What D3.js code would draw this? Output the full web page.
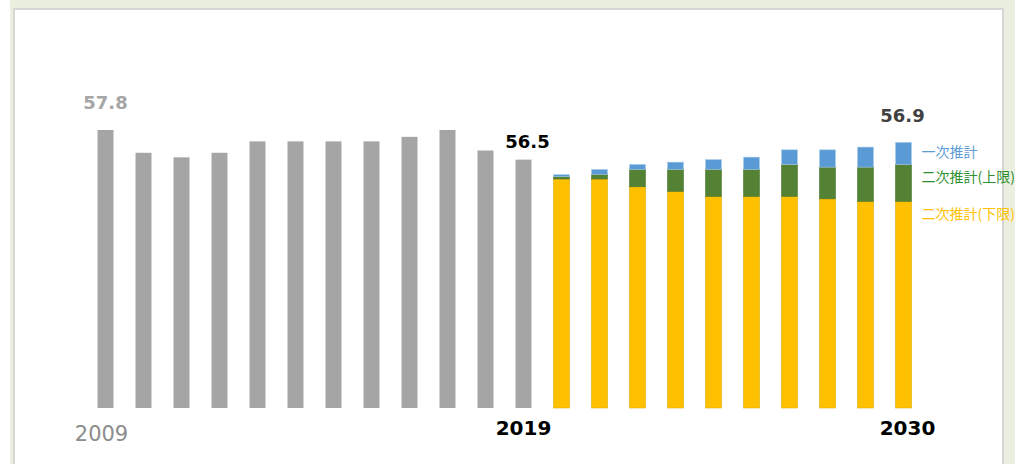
<!DOCTYPE html>
<html><head><meta charset="utf-8">
<script src="https://cdn.jsdelivr.net/npm/d3@7"></script>
<style>
html,body{margin:0;padding:0;background:#fff;overflow:hidden;}
svg{display:block;}
</style></head>
<body>
<svg id="chart" width="1015" height="464"></svg>
<script>
// ---- data ----
const tickLabels = ["2009","","","","","","","","","","","2019","","","","","","","","","","2030"];
const actualValues = [57.8,56.8,56.6,56.8,57.3,57.3,57.3,57.3,57.5,57.8,56.9,56.5];
// cumulative levels for projection years (index 12..21)
const lowerBound = [55.65,55.65,55.31,55.11,54.89,54.89,54.89,54.78,54.67,54.67]; // 二次推計(下限)
const upperBound = [55.75,55.85,56.07,56.07,56.07,56.07,56.28,56.17,56.17,56.28]; // 二次推計(上限)
const firstEst   = [55.84,56.07,56.29,56.39,56.50,56.61,56.93,56.93,57.05,57.26]; // 一次推計
const seriesNames = ["一次推計","二次推計(上限)","二次推計(下限)"];
const valueLabels = [{i:0,text:"57.8"},{i:11,text:"56.5"},{i:21,text:"56.9"}];

const svg = d3.select("#chart");
// frame
svg.append("rect").attr("x",10).attr("y",0).attr("width",1005).attr("height",464).attr("fill","#ebefdf");
svg.append("rect").attr("x",14).attr("y",9).attr("width",989).attr("height",470)
  .attr("fill","#fff").attr("stroke","#d6d6d6").attr("stroke-width",2);

const idx = d3.range(tickLabels.length);
const x = d3.scaleBand().domain(idx).range([86.5, 86.5 + 38*22]).paddingInner(0.58).paddingOuter(0.29);
const y = d3.scaleLinear().domain([45.6, 57.8]).range([408, 130]);

const g = svg.append("g");
// actual bars
g.selectAll("rect.act").data(actualValues).join("rect").attr("class","act")
  .attr("x",(d,i)=>x(i)).attr("width",x.bandwidth())
  .attr("y",d=>y(d)).attr("height",d=>y.range()[0]-y(d))
  .attr("fill","#a5a5a5");

// projection stacks
const proj = lowerBound.map((l,k)=>({i:12+k, l, u:upperBound[k], f:firstEst[k]}));
const segs = [
  {key:"lower", lo:d=>y.domain()[0], hi:d=>d.l, fill:"#ffc000", stroke:"#e0aa00"},
  {key:"upper", lo:d=>d.l, hi:d=>d.u, fill:"#548235", stroke:"#4a7530"},
  {key:"first", lo:d=>d.u, hi:d=>d.f, fill:"#5b9bd5", stroke:"#a9cbe9"}
];
segs.forEach(s=>{
  g.selectAll("rect."+s.key).data(proj).join("rect").attr("class",s.key)
    .attr("x",d=>x(d.i)).attr("width",x.bandwidth())
    .attr("y",d=>y(s.hi(d))).attr("height",d=>y(s.lo(d))-y(s.hi(d)))
    .attr("fill",s.fill).attr("stroke",s.stroke).attr("stroke-width",0.6);
});

// value labels
const vlStyle = [
  {fill:"#a6a6a6", dy:-21, dx:0},
  {fill:"#000000", dy:-12, dx:4},
  {fill:"#404040", dy:-20, dx:-1}
];
const topOf = i => i < 12 ? actualValues[i] : firstEst[i-12];
svg.selectAll("text.vl").data(valueLabels).join("text").attr("class","vl")
  .attr("x",(d,k)=>x(d.i)+x.bandwidth()/2+vlStyle[k].dx)
  .attr("y",(d,k)=>y(topOf(d.i))+vlStyle[k].dy)
  .attr("text-anchor","middle")
  .attr("font-family","'DejaVu Sans', Verdana, sans-serif")
  .attr("font-weight","bold").attr("font-size",18)
  .attr("fill",(d,k)=>vlStyle[k].fill)
  .text(d=>d.text);

// x axis labels
const xAxis = d3.axisBottom(x).tickSize(0).tickPadding(0).tickFormat(i=>tickLabels[i]);
const ax = svg.append("g").attr("transform","translate(0,408)").call(xAxis);
ax.select(".domain").remove();
ax.selectAll(".tick text")
  .attr("font-family","'DejaVu Sans', Verdana, sans-serif")
  .attr("dy",null)
  .attr("y",(i)=> i===0 ? 33 : 27)
  .attr("dx",(i)=> i===0 ? -4 : (i===21 ? 4 : 0))
  .attr("font-size",(i)=> i===0 ? 21 : 20)
  .attr("font-weight",(i)=> i===0 ? "normal" : "bold")
  .attr("fill",(i)=> i===0 ? "#8c8c8c" : "#000");

// legend labels
const legendColors = ["#5b9bd5","#2f8f2f","#ffc000"];
const legendY = [157, 182, 219];
svg.selectAll("text.lg").data(seriesNames).join("text").attr("class","lg")
  .attr("x", x(21)+x.bandwidth()+10)
  .attr("y",(d,k)=>legendY[k])
  .attr("font-family","'Noto Sans CJK JP', sans-serif")
  .attr("font-size",14)
  .attr("fill",(d,k)=>legendColors[k])
  .text(d=>d);
</script>
</body></html>
